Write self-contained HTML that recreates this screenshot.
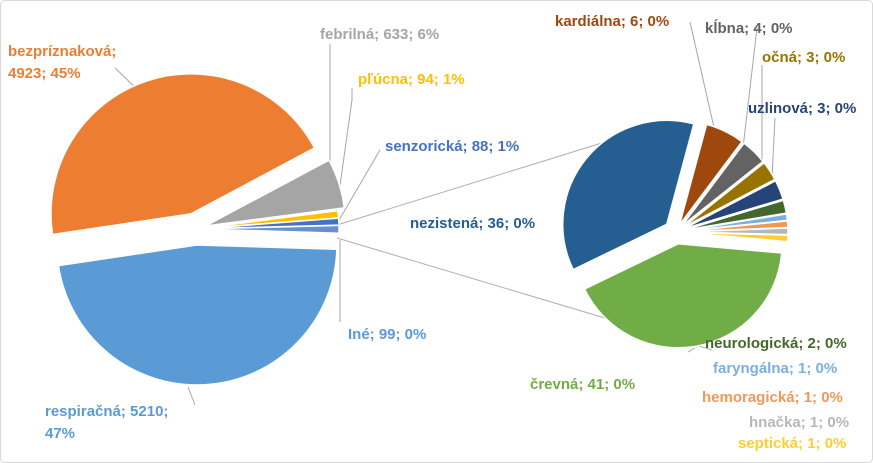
<!DOCTYPE html>
<html><head><meta charset="utf-8"><style>
html,body{margin:0;padding:0;background:#fff}
#c{position:relative;width:873px;height:463px;overflow:hidden}
svg{position:absolute;left:0;top:0}
text{font-family:"Liberation Sans",sans-serif;font-weight:bold;font-size:15px}
</style></head><body>
<div id="c">
<svg id="s" width="873" height="463">
<rect x="0.5" y="0.5" width="872" height="462" rx="4" fill="#fff" stroke="#d9d9d9"/>
<g id="lines" stroke="#a6a6a6" stroke-width="1" fill="none">
<polyline points="115,68 140,92"/>
<polyline points="330,44 330,168"/>
<polyline points="352,88 352,100 336,214"/>
<polyline points="380,150 338,222"/>
<polyline points="340,322 340,240"/>
<polyline points="195,405 188,387"/>
<polyline points="690,22 715,132"/>
<polyline points="757,28 743,148"/>
<polyline points="762,65 762,160"/>
<polyline points="775,118 772,178"/>
<polyline points="695,348 688,352"/>
<polyline points="337,225 605,142" stroke="#b0b0b0"/>
<polyline points="337,238 712,350" stroke="#b0b0b0"/>
</g>
<g id="p1"></g>
<g id="p2"></g>
<text x="8" y="56" fill="#ED7D31"><tspan x="8">bezpríznaková;</tspan><tspan x="8" dy="22">4923; 45%</tspan></text>
<text x="320" y="39" fill="#A5A5A5">febrilná; 633; 6%</text>
<text x="358" y="84" fill="#FFC000">pľúcna; 94; 1%</text>
<text x="385" y="151" fill="#4472C4">senzorická; 88; 1%</text>
<text x="348" y="339" fill="#5B9BD5">Iné; 99; 0%</text>
<text x="45" y="416" fill="#5B9BD5"><tspan x="45">respiračná; 5210;</tspan><tspan x="45" dy="22">47%</tspan></text>
<text x="410" y="228" fill="#255E91">nezistená; 36; 0%</text>
<text x="555" y="26" fill="#9E480E">kardiálna; 6; 0%</text>
<text x="705" y="33" fill="#636363">kĺbna; 4; 0%</text>
<text x="762" y="62" fill="#997300">očná; 3; 0%</text>
<text x="748" y="113" fill="#264478">uzlinová; 3; 0%</text>
<text x="705" y="348" fill="#43682B">neurologická; 2; 0%</text>
<text x="713" y="373" fill="#7CAFDD">faryngálna; 1; 0%</text>
<text x="702" y="402" fill="#F1975A">hemoragická; 1; 0%</text>
<text x="749" y="427" fill="#B7B7B7">hnačka; 1; 0%</text>
<text x="738" y="448" fill="#FFCD33">septická; 1; 0%</text>
<text x="530" y="389" fill="#70AD47">črevná; 41; 0%</text>
</svg>
</div>
<script>
const mainCats = ["Iné","respiračná","bezpríznaková","febrilná","pľúcna","senzorická"];
const mainVals = [99,5210,4923,633,94,88];
const mainColors = ["#6A8FD0","#5B9BD5","#ED7D31","#A5A5A5","#FFC000","#4472C4"];
const subCats = ["črevná","nezistená","kardiálna","kĺbna","očná","uzlinová","neurologická","faryngálna","hemoragická","hnačka","septická"];
const subVals = [41,36,6,4,3,3,2,1,1,1,1];
const subColors = ["#70AD47","#255E91","#9E480E","#636363","#997300","#264478","#43682B","#7CAFDD","#F1975A","#B7B7B7","#FFCD33"];
const NS="http://www.w3.org/2000/svg";
function drawPie(g, vals, colors, cx, cy, r, startDeg, explodeFn, prefix){
  const tot = vals.reduce((a,b)=>a+b,0);
  let a = startDeg;
  vals.forEach((v,i)=>{
    const sweep = v/tot*360;
    const a0=a*Math.PI/180, a1=(a+sweep)*Math.PI/180, am=(a0+a1)/2;
    const e = explodeFn(i,sweep);
    const ox = cx+e*Math.cos(am), oy = cy+e*Math.sin(am);
    const x0=ox+r*Math.cos(a0), y0=oy+r*Math.sin(a0), x1=ox+r*Math.cos(a1), y1=oy+r*Math.sin(a1);
    const p=document.createElementNS(NS,"path");
    p.setAttribute("d",`M${ox},${oy}L${x0},${y0}A${r},${r} 0 ${sweep>180?1:0} 1 ${x1},${y1}Z`);
    p.setAttribute("fill",colors[i]);
    p.setAttribute("stroke","#fff");
    p.setAttribute("stroke-width","1.5");
    
    
    g.appendChild(p);
    a += sweep;
  });
}
drawPie(document.getElementById("p1"), mainVals, mainColors, 196, 229, 140, -1.5,
  (i,s)=> s>100 ? 16 : (s>15 ? 10 : 3), "main");
drawPie(document.getElementById("p2"), subVals, subColors, 676, 232, 104, 5.1,
  (i,s)=> s>60 ? 12 : 8, "sub");
</script>
</body></html>
